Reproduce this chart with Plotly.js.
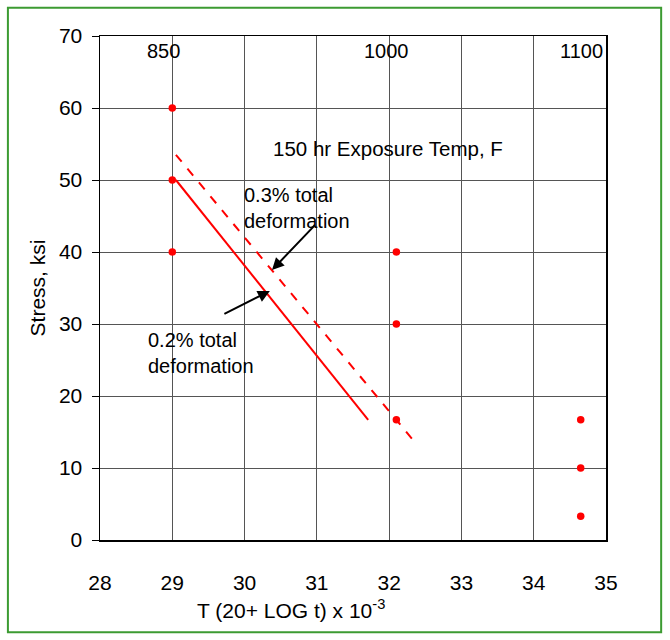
<!DOCTYPE html>
<html><head><meta charset="utf-8">
<script src="https://cdn.plot.ly/plotly-3.0.1.min.js"></script>
<style>html,body{margin:0;padding:0;background:#fff}#chart{width:670px;height:640px}</style>
</head><body><div id="chart"></div>
<script>
// data points
const pointsX = [29.0, 29.0, 29.0, 32.1, 32.1, 32.1, 34.65, 34.65, 34.65];
const pointsY = [60, 50, 40, 40, 30, 16.7, 16.7, 10, 3.3];
// fitted lines
const line02X = [29.05, 31.71];
const line02Y = [50, 16.7];
const line03X = [29.05, 32.33];
const line03Y = [53.5, 13.9];
// temperature labels
const tempLabels = ["850", "1000", "1100"];
const tempX = [28.88, 31.96, 34.66];
const xTicks = [28, 29, 30, 31, 32, 33, 34, 35];
const yTicks = [0, 10, 20, 30, 40, 50, 60, 70];
const xTitle = "T (20+ LOG t) x 10<sup>-3</sup>";
const yTitle = "Stress, ksi";

const font = {family: "Liberation Sans, Arial, sans-serif", color: "#000"};
const f = s => Object.assign({size: s}, font);

const traces = [
  {x: line02X, y: line02Y, mode: "lines", line: {color: "#ff0000", width: 2}, hoverinfo: "skip"},
  {x: line03X, y: line03Y, mode: "lines", line: {color: "#ff0000", width: 2, dash: "dash"}, hoverinfo: "skip"},
  {x: pointsX, y: pointsY, mode: "markers", marker: {color: "#ff0000", size: 7.5}}
];

const annotations = tempLabels.map((t, i) => ({
  x: tempX[i], y: 67.85, xref: "x", yref: "y", text: t, showarrow: false, font: f(20)
}));
annotations.push(
  {x: 31.98, y: 54.4, xref: "x", yref: "y", text: "150 hr Exposure Temp, F", showarrow: false, font: f(20.5)},
  {x: 29.96, y: 46.1, xref: "x", yref: "y", text: "0.3% total<br>deformation", align: "left", xanchor: "left", showarrow: false, font: f(20)},
  {x: 28.63, y: 26.0, xref: "x", yref: "y", text: "0.2% total<br>deformation", align: "left", xanchor: "left", showarrow: false, font: f(20)},
  {x: 30.38, y: 37.5, ax: 30.99, ay: 43.9, xref: "x", yref: "y", axref: "x", ayref: "y", text: "", showarrow: true, arrowhead: 2, arrowsize: 1.2, arrowwidth: 2, arrowcolor: "#000"},
  {x: 30.35, y: 34.6, ax: 29.7, ay: 31.3, xref: "x", yref: "y", axref: "x", ayref: "y", text: "", showarrow: true, arrowhead: 2, arrowsize: 1.2, arrowwidth: 2, arrowcolor: "#000"},
  {x: 0.377, y: -0.137, xref: "paper", yref: "paper", text: xTitle, showarrow: false, font: f(21), xanchor: "center", yanchor: "middle"}
);

const layout = {
  width: 670, height: 640,
  margin: {l: 100, r: 64, t: 36, b: 100},
  paper_bgcolor: "#fff", plot_bgcolor: "#fff",
  showlegend: false,
  font: font,
  xaxis: {
    range: [28, 35], tickvals: xTicks, ticktext: xTicks.map(String),
    showgrid: true, gridcolor: "#555", gridwidth: 1, zeroline: false,
    showline: true, linecolor: "#000", linewidth: 1.5, mirror: true,
    ticks: "", ticklabelstandoff: 23,
    tickfont: f(21)
  },
  yaxis: {
    range: [0, 70], tickvals: yTicks, ticktext: yTicks.map(String),
    showgrid: true, gridcolor: "#555", gridwidth: 1, zeroline: false,
    showline: true, linecolor: "#000", linewidth: 1.5, mirror: true,
    ticks: "outside", ticklen: 7, tickcolor: "#000", ticklabelstandoff: 5,
    tickfont: f(21),
    title: {text: yTitle, font: f(21), standoff: 7}
  },
  annotations: annotations,
  shapes: [{type: "rect", xref: "paper", yref: "paper", x0: -0.182, x1: 1.109, y0: -0.183, y1: 1.056,
    line: {color: "#3c9b32", width: 2}, fillcolor: "rgba(0,0,0,0)", layer: "above"}]
};

Plotly.newPlot("chart", traces, layout, {displayModeBar: false, staticPlot: true});
</script></body></html>
